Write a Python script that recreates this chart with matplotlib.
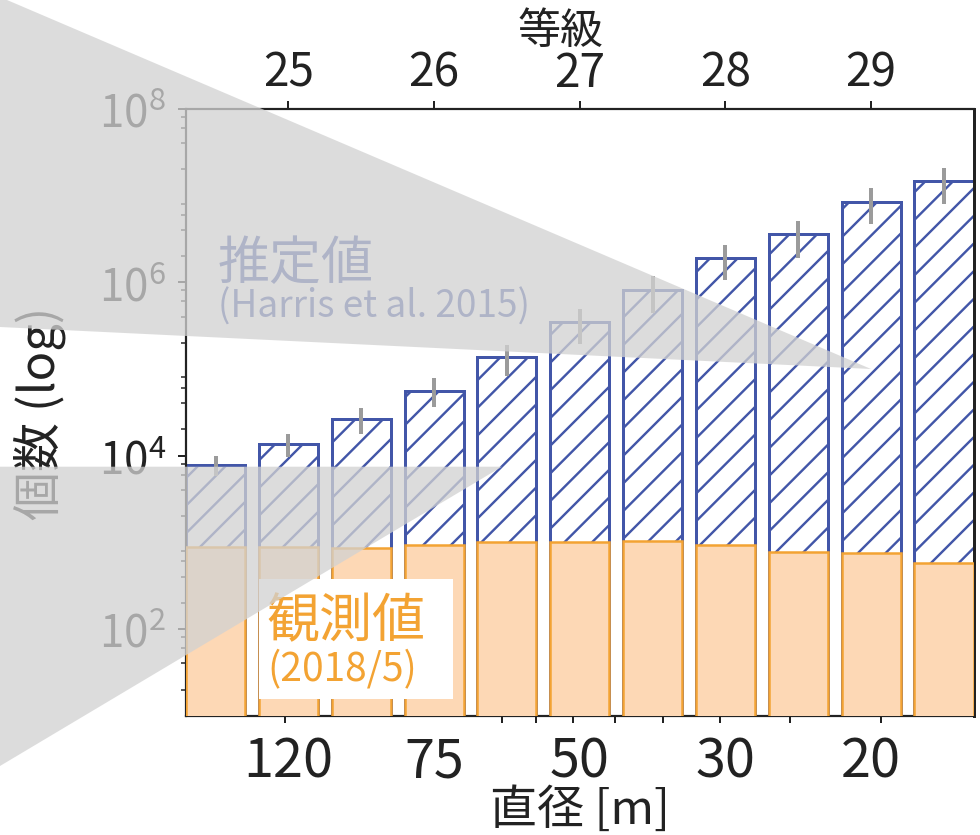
import numpy as np
import matplotlib
matplotlib.use("Agg")
import matplotlib.pyplot as plt
from matplotlib.patches import Polygon, Rectangle
from matplotlib.ticker import FixedLocator, NullFormatter, LogFormatterSciNotation

# 推定値 (Harris et al. 2015) / 観測値 (2018/5)
estimated = [7.8e3, 1.37e4, 2.66e4, 5.6e4, 1.36e5, 3.45e5, 8.2e5, 1.88e6, 3.6e6, 8.4e6, 1.45e7]
est_low = [5.8e3, 9.5e3, 1.75e4, 3.6e4, 8.2e4, 1.95e5, 4.4e5, 1.05e6, 1.9e6, 4.7e6, 8.0e6]
est_high = [9.8e3, 1.75e4, 3.56e4, 7.9e4, 1.9e5, 4.9e5, 1.16e6, 2.7e6, 5.1e6, 1.21e7, 2.06e7]
observed = [890, 870, 850, 930, 1010, 1010, 1035, 930, 780, 750, 570]

mag_ticks = [25, 26, 27, 28, 29]
diam_labels = ['120', '75', '50', '30', '20']
diam_marks = [200, 100, 90, 80, 70, 60, 50, 40, 30]

W, H, DPI = 980, 836, 166
pt = lambda p: p * 72 / DPI   # pixel -> point

plt.rcParams['font.family'] = ['Noto Sans CJK JP', 'DejaVu Sans']
plt.rcParams['hatch.linewidth'] = pt(2.4)

BLUE = '#4256a8'
ORANGE = '#f3a333'
ORANGE_FILL = '#fdd8b5'
TXT = '#222222'

fig = plt.figure(figsize=(W / DPI, H / DPI), dpi=DPI)
ax = fig.add_axes([186 / W, 1 - 716.7 / H, (973.5 - 186) / W, (716.7 - 109.6) / H])

x = np.arange(len(estimated))
bw = 0.81

est = np.array(estimated)
ax.bar(x, est, width=bw, bottom=1, color='white', edgecolor=BLUE, hatch='//',
       linewidth=pt(3), zorder=2)
ax.bar(x, observed, width=bw, bottom=1, color=ORANGE_FILL, edgecolor=ORANGE,
       linewidth=pt(2.5), zorder=3)
ax.errorbar(x, est, yerr=[est - np.array(est_low), np.array(est_high) - est],
            fmt='none', ecolor='#9b9b9b', elinewidth=pt(4), capsize=0, zorder=4)

ax.set_yscale('log')
ax.set_ylim(10, 1e8)
ax.set_xlim(-bw / 2, x[-1] + bw / 2)

ax.yaxis.set_major_locator(FixedLocator([1e2, 1e4, 1e6, 1e8]))
ax.yaxis.set_major_formatter(LogFormatterSciNotation())
ax.yaxis.set_minor_locator(FixedLocator([m * 10.0 ** k for k in range(1, 8) for m in (2, 4, 6, 8)]))
ax.yaxis.set_minor_formatter(NullFormatter())
ax.tick_params(axis='y', which='major', length=pt(8), width=pt(2), labelsize=pt(44),
               pad=pt(12), colors=TXT)
ax.tick_params(axis='y', which='minor', length=pt(5), width=pt(1.5), colors=TXT)

# 直径の目盛り (ラベルは等級の位置)
ax.set_xticks([2 * (m - 24.5) for m in mag_ticks])
ax.set_xticklabels(diam_labels)
ax.xaxis.set_minor_locator(FixedLocator([0.95 + 9.93 * np.log10(200 / d) for d in diam_marks]))
ax.tick_params(axis='x', which='major', length=0, labelsize=pt(54), pad=pt(18), colors=TXT)
ax.tick_params(axis='x', which='minor', length=pt(7), width=pt(2), colors=TXT)
ax.set_xlabel('直径 [m]', fontsize=pt(47), color=TXT)
ax.xaxis.set_label_coords(0.5, -0.114)
ax.set_ylabel('個数 (log)', fontsize=pt(49), color=TXT)
ax.yaxis.set_label_coords(-0.153, 0.50)

# 等級
top = ax.secondary_xaxis('top')
top.set_xticks([2 * (m - 24.5) for m in mag_ticks])
top.set_xticklabels([str(m) for m in mag_ticks])
top.tick_params(length=pt(8), width=pt(2), labelsize=pt(46), pad=pt(4), colors=TXT)
top.set_xlabel('等級', fontsize=pt(43), color=TXT, labelpad=pt(5))
top.xaxis.label.set_x((561 - 186) / (973.5 - 186))

for s in ax.spines.values():
    s.set_linewidth(pt(2.2))
    s.set_color(TXT)
ax.spines['right'].set_linewidth(pt(3))

# ラベル
fig.text(218 / W, 1 - 264 / H, '推定値', fontsize=pt(52), color=BLUE, va='center', ha='left', zorder=3)
fig.text(218 / W, 1 - 307 / H, '(Harris et al. 2015)', fontsize=pt(37), color=BLUE,
         va='center', ha='left', zorder=3)
fig.add_artist(Rectangle((259 / W, 1 - 700 / H), 194 / W, 120 / H, transform=fig.transFigure,
                         facecolor='white', edgecolor='none', zorder=2))
fig.text(266 / W, 1 - 622 / H, '観測値', fontsize=pt(53), color=ORANGE, va='center', ha='left', zorder=3)
fig.text(267 / W, 1 - 670 / H, '(2018/5)', fontsize=pt(39), color=ORANGE, va='center', ha='left', zorder=3)

# 半透明のグレーの帯
def fpoly(pts):
    return Polygon([(px / W, 1 - py / H) for px, py in pts], closed=True, transform=fig.transFigure,
                   facecolor='#d2d2d2', edgecolor='none', alpha=0.76, zorder=5)

fig.add_artist(fpoly([(0, -2), (871, 370), (0, 328)]))
fig.add_artist(fpoly([(0, 467.7), (502, 467.7), (0, 767)]))

fig.savefig('out.png', dpi=DPI)
